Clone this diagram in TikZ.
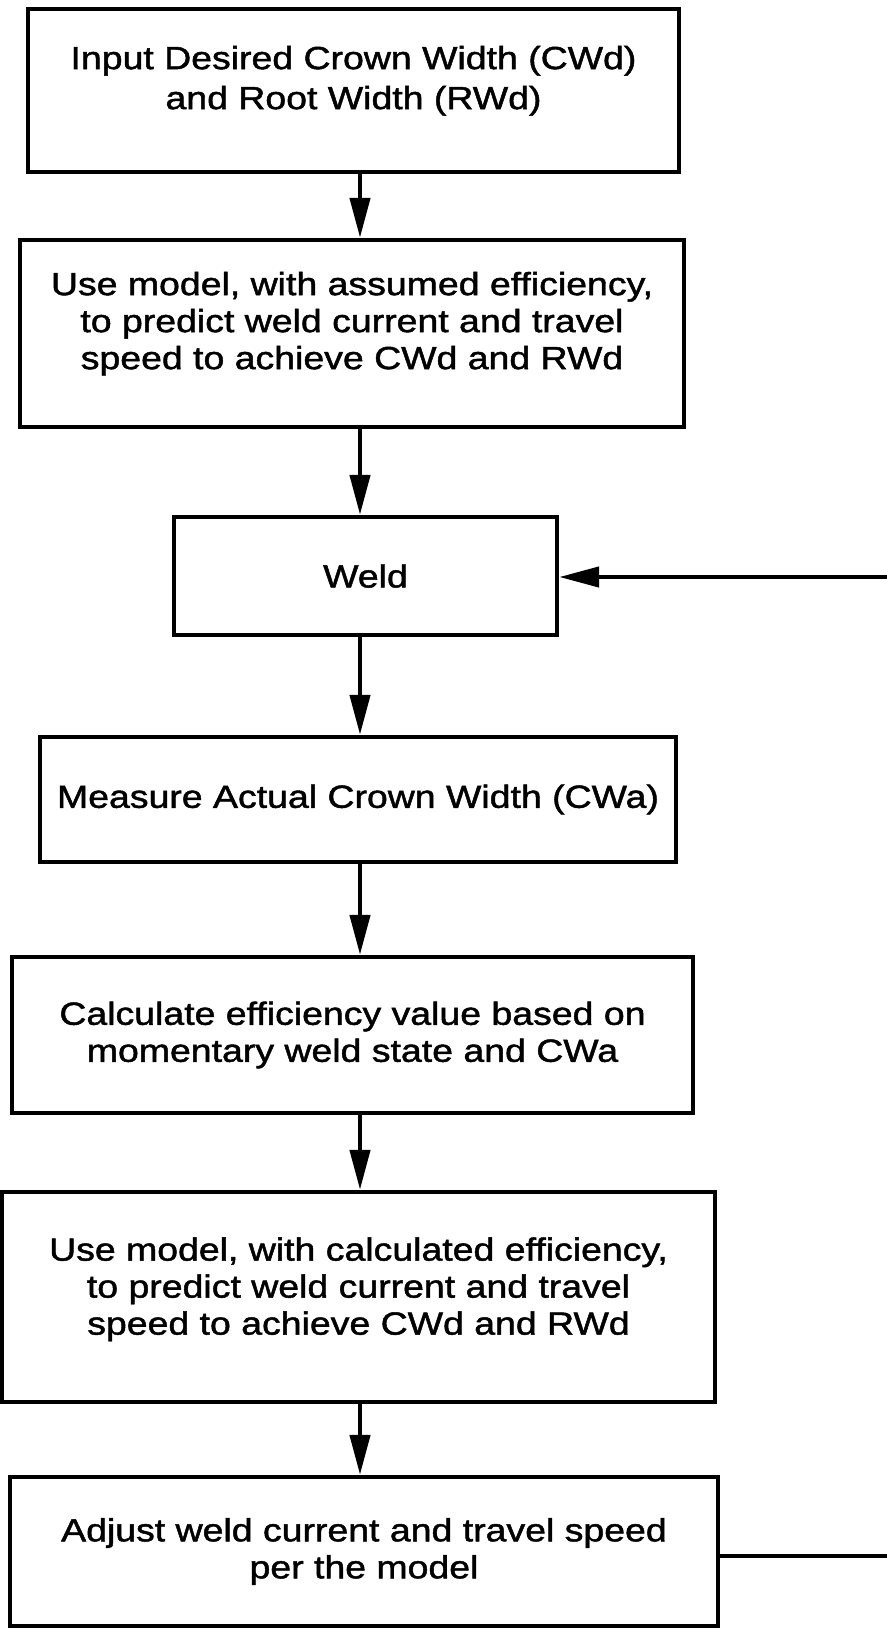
\documentclass[tikz,border=0pt]{standalone}
\usepackage{fontspec}
\setmainfont{Liberation Sans}[FakeStretch=1.17, FakeBold=1.5]
\usetikzlibrary{arrows.meta}

\begin{document}
\begin{tikzpicture}[x=0.5pt, y=-0.5pt,
  stepbox/.style={draw, line width=2.2pt, align=center, inner sep=0pt,
    font=\fontsize{16}{18.5}\selectfont},
  flow/.style={line width=2.2pt, -{Triangle[length=20pt,width=10pt]}}]
  \useasboundingbox (0,0) rectangle (887,1628);
  \clip (0,0) rectangle (887,1628);
  \coordinate (spine) at (360,0);
  \node[stepbox, minimum width=325.5pt, minimum height=81.5pt, text depth=13pt] (input) at (353.5,90.5)
    {Input Desired Crown Width (CWd)\\[1.5pt]and Root Width (RWd)};
  \node[stepbox, minimum width=332pt, minimum height=93.5pt, text depth=13pt] (assumed) at (352,333.5)
    {Use model, with assumed efficiency,\\to predict weld current and travel\\speed to achieve CWd and RWd};
  \node[stepbox, minimum width=191.5pt, minimum height=59pt] (weld) at (365.5,576) {Weld};
  \node[stepbox, minimum width=318pt, minimum height=62.5pt] (measure) at (358,799.5)
    {Measure Actual Crown Width (CWa)};
  \node[stepbox, minimum width=340.5pt, minimum height=78pt] (calc) at (352.5,1035)
    {Calculate efficiency value based on\\momentary weld state and CWa};
  \node[stepbox, minimum width=356.5pt, minimum height=105pt, text depth=11pt] (predict) at (358.5,1297)
    {Use model, with calculated efficiency,\\to predict weld current and travel\\speed to achieve CWd and RWd};
  \node[stepbox, minimum width=354pt, minimum height=74.5pt] (adjust) at (364,1551.5)
    {Adjust weld current and travel speed\\per the model};
  \draw[flow] (input.south -| spine) -- (assumed.north -| spine);
  \draw[flow] (assumed.south -| spine) -- (weld.north -| spine);
  \draw[flow] (weld.south -| spine) -- (measure.north -| spine);
  \draw[flow] (measure.south -| spine) -- (calc.north -| spine);
  \draw[flow] (calc.south -| spine) -- (predict.north -| spine);
  \draw[flow] (predict.south -| spine) -- (adjust.north -| spine);
  \coordinate (loopdown) at (905,1556);
  \coordinate (loopup) at (905,577);
  \draw[flow] (adjust.east |- loopdown) -- (loopdown) -- (loopup) -- (weld.east |- loopup);
\end{tikzpicture}
\end{document}
